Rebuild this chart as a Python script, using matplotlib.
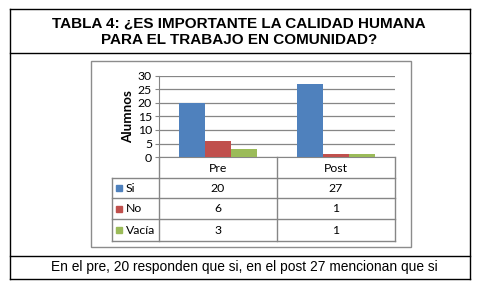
import numpy as np
import matplotlib
matplotlib.use("Agg")
import matplotlib.pyplot as plt
from matplotlib.lines import Line2D
from matplotlib.patches import Rectangle

# --- Data ---
categories = ["Pre", "Post"]
series_names = ["Si", "No", "Vacía"]
si_vals = [20, 27]
no_vals = [6, 1]
vacia_vals = [3, 1]
yticks = [0, 5, 10, 15, 20, 25, 30]

title_lines = "TABLA 4: ¿ES IMPORTANTE LA CALIDAD HUMANA\nPARA EL TRABAJO EN COMUNIDAD?"
caption = "En el pre, 20 responden que si, en el post 27 mencionan que si"
y_label = "Alumnos"

colors = ["#4F81BD", "#C0504D", "#9BBB59"]
grid_col = "#868686"
chart_font = "Lato"
chart_fs = 8.8

W, H = 483, 295
fig = plt.figure(figsize=(W / 100, H / 100), dpi=100)
fig.patch.set_facecolor("white")


def fx(x):
    return x / W


def fy(y):
    return 1 - y / H


def hline(x0, x1, y, color="black", lw=1.0):
    fig.add_artist(Line2D([fx(x0), fx(x1)], [fy(y), fy(y)], color=color, lw=lw,
                          transform=fig.transFigure))


def vline(x, y0, y1, color="black", lw=1.0):
    fig.add_artist(Line2D([fx(x), fx(x)], [fy(y0), fy(y1)], color=color, lw=lw,
                          transform=fig.transFigure))


# outer frame
hline(10, 470, 9)
hline(10, 470, 53)
hline(10, 470, 256)
hline(10, 470, 279)
vline(10, 9, 279)
vline(470, 9, 279)

# chart box
box = Rectangle((fx(91), fy(247)), fx(411) - fx(91), fy(61) - fy(247),
                transform=fig.transFigure, fill=False, edgecolor="#8c8c8c", lw=1.0)
fig.add_artist(box)

# title / caption
fig.text(fx(239), fy(31.5), title_lines, ha="center", va="center", fontsize=11,
         fontweight="bold", family="Liberation Sans", linespacing=1.2)
fig.text(fx(244), fy(267), caption, ha="center", va="center", fontsize=9.9,
         family="Liberation Sans")

# --- Bar chart ---
ax = fig.add_axes([fx(159), fy(157), fx(395) - fx(159), fy(76) - fy(157)])
x = np.arange(len(categories))
width = 0.22
for i, vals in enumerate([si_vals, no_vals, vacia_vals]):
    ax.bar(x + (i - 1) * width, vals, width, color=colors[i], zorder=3)
ax.set_xlim(-0.5, 1.5)
ax.set_ylim(0, 30)
ax.set_yticks(yticks)
ax.set_yticklabels([str(t) for t in yticks], family=chart_font, fontsize=chart_fs)
ax.set_xticks([])
ax.yaxis.grid(True, color=grid_col, lw=0.9, zorder=0)
for s in ["top", "right"]:
    ax.spines[s].set_visible(False)
ax.spines["left"].set_color(grid_col)
ax.spines["bottom"].set_color(grid_col)
ax.tick_params(axis="y", length=3, color=grid_col, pad=2)
ax.set_ylabel(y_label, family=chart_font, fontsize=9.6, fontweight="bold", labelpad=3)

# --- Data table under the chart ---
tl, c1, c2, tr = 112, 159, 277, 395
rows_y = [157, 178, 198, 219, 241]
vline(c1, 157, 241, grid_col)
vline(c2, 157, 241, grid_col)
vline(tr, 157, 241, grid_col)
vline(tl, 178, 241, grid_col)
hline(tl, tr, 178, grid_col)
hline(tl, tr, 198, grid_col)
hline(tl, tr, 219, grid_col)
hline(tl, tr, 241, grid_col)

col_centers = [(c1 + c2) / 2, (c2 + tr) / 2]
for j, cat in enumerate(categories):
    fig.text(fx(col_centers[j]), fy((rows_y[0] + rows_y[1]) / 2 + 1), cat,
             ha="center", va="center", family=chart_font, fontsize=chart_fs)

for i, (name, vals) in enumerate(zip(series_names, [si_vals, no_vals, vacia_vals])):
    yc = (rows_y[i + 1] + rows_y[i + 2]) / 2
    fig.add_artist(Rectangle((fx(116), fy(yc + 3)), fx(6), fy(0) - fy(6),
                             transform=fig.transFigure, color=colors[i]))
    fig.text(fx(126), fy(yc), name, ha="left", va="center", family=chart_font,
             fontsize=chart_fs)
    for j, v in enumerate(vals):
        fig.text(fx(col_centers[j]), fy(yc), str(v), ha="center", va="center",
                 family=chart_font, fontsize=chart_fs)

fig.savefig("out.png", dpi=100)
